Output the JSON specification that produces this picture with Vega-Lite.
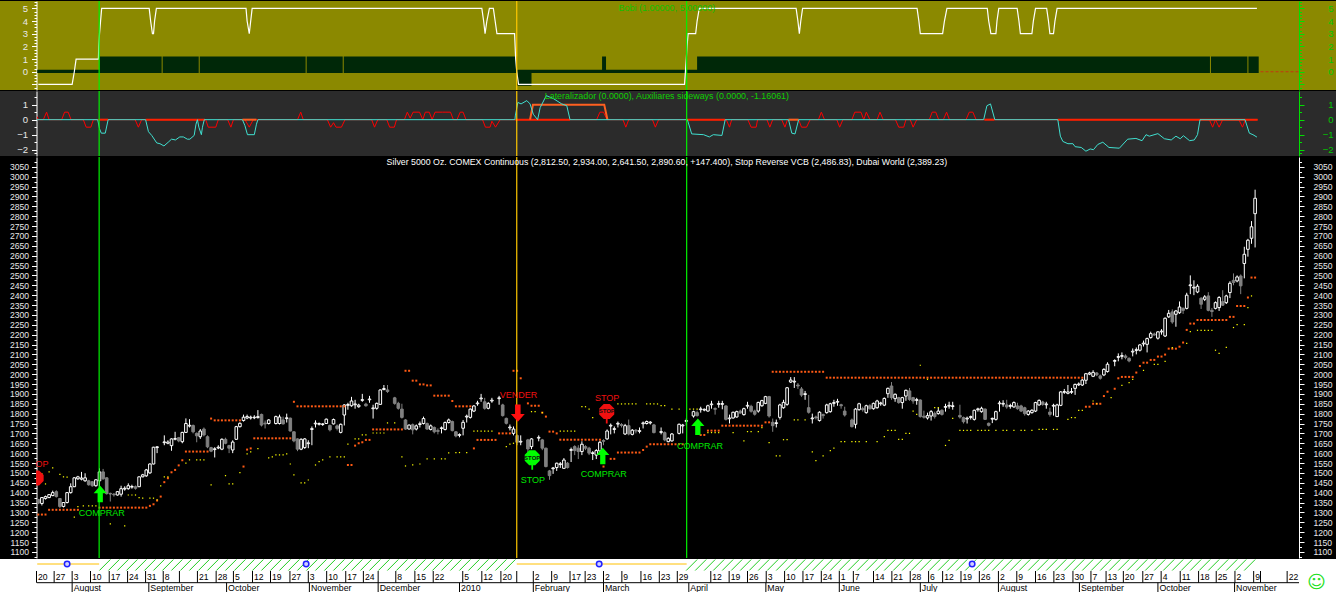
{"$schema":"https://vega.github.io/schema/vega-lite/v6.json","background":"#000000","padding":0,"spacing":1,"bounds":"flush","config":{"view":{"stroke":null},"font":"Liberation Sans","axis":{"grid":false}},
"datasets":{
"candles":[{"i":0,"o":1365,"h":1368,"l":1342,"c":1347},{"i":1,"o":1345,"h":1378,"l":1335,"c":1375},{"i":2,"o":1370,"h":1385,"l":1365,"c":1380},{"i":3,"o":1375,"h":1393,"l":1372,"c":1390},{"i":4,"o":1385,"h":1410,"l":1382,"c":1400},{"i":5,"o":1405,"h":1412,"l":1375,"c":1380},{"i":6,"o":1370,"h":1372,"l":1322,"c":1330},{"i":7,"o":1330,"h":1352,"l":1325,"c":1350},{"i":8,"o":1350,"h":1402,"l":1345,"c":1400},{"i":9,"o":1400,"h":1447,"l":1395,"c":1430},{"i":10,"o":1430,"h":1478,"l":1428,"c":1475},{"i":11,"o":1470,"h":1485,"l":1465,"c":1480},{"i":12,"o":1468,"h":1505,"l":1462,"c":1474},{"i":13,"o":1460,"h":1498,"l":1455,"c":1475},{"i":14,"o":1460,"h":1465,"l":1435,"c":1440},{"i":15,"o":1455,"h":1458,"l":1430,"c":1435},{"i":16,"o":1435,"h":1468,"l":1430,"c":1465},{"i":17,"o":1460,"h":1523,"l":1430,"c":1505},{"i":18,"o":1505,"h":1520,"l":1465,"c":1470},{"i":19,"o":1475,"h":1478,"l":1390,"c":1395},{"i":20,"o":1396,"h":1400,"l":1355,"c":1393},{"i":21,"o":1392,"h":1398,"l":1380,"c":1389},{"i":22,"o":1388,"h":1408,"l":1385,"c":1405},{"i":23,"o":1392,"h":1435,"l":1380,"c":1420},{"i":24,"o":1418,"h":1432,"l":1410,"c":1422},{"i":25,"o":1420,"h":1447,"l":1415,"c":1435},{"i":26,"o":1428,"h":1440,"l":1420,"c":1431},{"i":27,"o":1430,"h":1436,"l":1415,"c":1422},{"i":28,"o":1430,"h":1482,"l":1428,"c":1480},{"i":29,"o":1480,"h":1495,"l":1478,"c":1490},{"i":30,"o":1485,"h":1520,"l":1480,"c":1515},{"i":31,"o":1500,"h":1548,"l":1495,"c":1545},{"i":32,"o":1545,"h":1632,"l":1543,"c":1630},{"i":33,"o":1628,"h":1636,"l":1600,"c":1632},{"i":35,"o":1653,"h":1690,"l":1640,"c":1657},{"i":36,"o":1650,"h":1665,"l":1645,"c":1656},{"i":37,"o":1638,"h":1675,"l":1612,"c":1672},{"i":38,"o":1670,"h":1708,"l":1665,"c":1674},{"i":39,"o":1678,"h":1682,"l":1655,"c":1662},{"i":40,"o":1658,"h":1708,"l":1650,"c":1705},{"i":41,"o":1705,"h":1776,"l":1703,"c":1750},{"i":42,"o":1737,"h":1772,"l":1730,"c":1741},{"i":43,"o":1740,"h":1745,"l":1700,"c":1708},{"i":44,"o":1700,"h":1705,"l":1655,"c":1688},{"i":45,"o":1683,"h":1722,"l":1672,"c":1712},{"i":46,"o":1722,"h":1730,"l":1685,"c":1692},{"i":47,"o":1683,"h":1690,"l":1625,"c":1632},{"i":48,"o":1628,"h":1632,"l":1605,"c":1610},{"i":49,"o":1618,"h":1630,"l":1578,"c":1622},{"i":50,"o":1626,"h":1640,"l":1620,"c":1630},{"i":51,"o":1620,"h":1675,"l":1615,"c":1670},{"i":52,"o":1670,"h":1678,"l":1645,"c":1650},{"i":53,"o":1638,"h":1642,"l":1600,"c":1625},{"i":54,"o":1616,"h":1665,"l":1600,"c":1656},{"i":55,"o":1670,"h":1738,"l":1668,"c":1734},{"i":56,"o":1734,"h":1756,"l":1730,"c":1751},{"i":57,"o":1765,"h":1795,"l":1760,"c":1782},{"i":58,"o":1778,"h":1795,"l":1772,"c":1785},{"i":59,"o":1778,"h":1790,"l":1770,"c":1782},{"i":60,"o":1779,"h":1792,"l":1772,"c":1782},{"i":61,"o":1780,"h":1818,"l":1775,"c":1785},{"i":62,"o":1796,"h":1800,"l":1735,"c":1742},{"i":63,"o":1752,"h":1765,"l":1725,"c":1748},{"i":64,"o":1750,"h":1772,"l":1745,"c":1768},{"i":66,"o":1750,"h":1790,"l":1745,"c":1785},{"i":67,"o":1750,"h":1795,"l":1745,"c":1783},{"i":68,"o":1768,"h":1785,"l":1745,"c":1748},{"i":69,"o":1775,"h":1800,"l":1755,"c":1779},{"i":70,"o":1777,"h":1780,"l":1710,"c":1712},{"i":71,"o":1708,"h":1710,"l":1655,"c":1662},{"i":72,"o":1672,"h":1675,"l":1610,"c":1620},{"i":73,"o":1620,"h":1675,"l":1615,"c":1670},{"i":74,"o":1628,"h":1676,"l":1622,"c":1672},{"i":75,"o":1648,"h":1665,"l":1625,"c":1652},{"i":76,"o":1720,"h":1735,"l":1640,"c":1724},{"i":77,"o":1748,"h":1766,"l":1730,"c":1752},{"i":78,"o":1746,"h":1755,"l":1740,"c":1750},{"i":79,"o":1745,"h":1752,"l":1738,"c":1748},{"i":80,"o":1750,"h":1775,"l":1748,"c":1772},{"i":81,"o":1740,"h":1745,"l":1710,"c":1718},{"i":82,"o":1748,"h":1775,"l":1745,"c":1770},{"i":83,"o":1738,"h":1745,"l":1715,"c":1725},{"i":84,"o":1705,"h":1750,"l":1700,"c":1746},{"i":85,"o":1793,"h":1848,"l":1740,"c":1844},{"i":86,"o":1842,"h":1855,"l":1820,"c":1846},{"i":87,"o":1840,"h":1885,"l":1835,"c":1864},{"i":88,"o":1845,"h":1870,"l":1825,"c":1849},{"i":89,"o":1835,"h":1850,"l":1830,"c":1843},{"i":90,"o":1867,"h":1900,"l":1860,"c":1871},{"i":91,"o":1848,"h":1855,"l":1835,"c":1840},{"i":92,"o":1870,"h":1890,"l":1855,"c":1874},{"i":93,"o":1825,"h":1845,"l":1775,"c":1829},{"i":94,"o":1827,"h":1856,"l":1820,"c":1852},{"i":95,"o":1847,"h":1922,"l":1845,"c":1920},{"i":96,"o":1922,"h":1945,"l":1918,"c":1927},{"i":97,"o":1920,"h":1945,"l":1905,"c":1912},{"i":99,"o":1880,"h":1885,"l":1845,"c":1852},{"i":100,"o":1852,"h":1860,"l":1820,"c":1827},{"i":101,"o":1823,"h":1850,"l":1775,"c":1781},{"i":102,"o":1768,"h":1772,"l":1718,"c":1722},{"i":103,"o":1722,"h":1745,"l":1720,"c":1742},{"i":104,"o":1744,"h":1750,"l":1695,"c":1718},{"i":105,"o":1722,"h":1745,"l":1715,"c":1738},{"i":106,"o":1745,"h":1760,"l":1730,"c":1749},{"i":107,"o":1750,"h":1785,"l":1745,"c":1775},{"i":108,"o":1750,"h":1755,"l":1718,"c":1722},{"i":109,"o":1720,"h":1745,"l":1715,"c":1738},{"i":110,"o":1730,"h":1735,"l":1700,"c":1708},{"i":111,"o":1715,"h":1725,"l":1695,"c":1710},{"i":112,"o":1725,"h":1735,"l":1700,"c":1728},{"i":113,"o":1720,"h":1760,"l":1715,"c":1755},{"i":114,"o":1755,"h":1775,"l":1750,"c":1768},{"i":115,"o":1760,"h":1765,"l":1710,"c":1714},{"i":116,"o":1708,"h":1712,"l":1680,"c":1687},{"i":117,"o":1690,"h":1700,"l":1680,"c":1694},{"i":118,"o":1726,"h":1768,"l":1690,"c":1756},{"i":119,"o":1783,"h":1795,"l":1755,"c":1787},{"i":120,"o":1781,"h":1826,"l":1775,"c":1823},{"i":121,"o":1813,"h":1843,"l":1808,"c":1839},{"i":122,"o":1850,"h":1865,"l":1840,"c":1854},{"i":123,"o":1875,"h":1900,"l":1860,"c":1879},{"i":124,"o":1860,"h":1880,"l":1820,"c":1827},{"i":125,"o":1827,"h":1858,"l":1822,"c":1852},{"i":126,"o":1864,"h":1880,"l":1855,"c":1868},{"i":128,"o":1876,"h":1890,"l":1845,"c":1880},{"i":129,"o":1844,"h":1850,"l":1785,"c":1790},{"i":130,"o":1776,"h":1780,"l":1745,"c":1751},{"i":131,"o":1728,"h":1745,"l":1715,"c":1732},{"i":132,"o":1700,"h":1735,"l":1690,"c":1722},{"i":133,"o":1689,"h":1695,"l":1640,"c":1655},{"i":134,"o":1656,"h":1690,"l":1640,"c":1660},{"i":136,"o":1667,"h":1672,"l":1600,"c":1621},{"i":137,"o":1633,"h":1676,"l":1620,"c":1672},{"i":139,"o":1676,"h":1690,"l":1660,"c":1680},{"i":140,"o":1667,"h":1672,"l":1615,"c":1625},{"i":141,"o":1625,"h":1628,"l":1528,"c":1532},{"i":142,"o":1510,"h":1515,"l":1465,"c":1486},{"i":143,"o":1521,"h":1530,"l":1495,"c":1525},{"i":144,"o":1527,"h":1552,"l":1510,"c":1549},{"i":145,"o":1542,"h":1555,"l":1525,"c":1546},{"i":146,"o":1523,"h":1575,"l":1520,"c":1565},{"i":147,"o":1549,"h":1555,"l":1522,"c":1527},{"i":148,"o":1614,"h":1628,"l":1555,"c":1618},{"i":149,"o":1633,"h":1640,"l":1590,"c":1613},{"i":150,"o":1625,"h":1640,"l":1570,"c":1608},{"i":151,"o":1608,"h":1660,"l":1590,"c":1645},{"i":152,"o":1633,"h":1640,"l":1615,"c":1625},{"i":153,"o":1625,"h":1632,"l":1590,"c":1600},{"i":154,"o":1598,"h":1610,"l":1565,"c":1602},{"i":155,"o":1590,"h":1620,"l":1570,"c":1613},{"i":156,"o":1611,"h":1662,"l":1605,"c":1655},{"i":157,"o":1664,"h":1670,"l":1640,"c":1660},{"i":158,"o":1672,"h":1720,"l":1668,"c":1712},{"i":159,"o":1737,"h":1750,"l":1695,"c":1741},{"i":160,"o":1720,"h":1735,"l":1700,"c":1724},{"i":161,"o":1747,"h":1760,"l":1730,"c":1751},{"i":162,"o":1745,"h":1752,"l":1730,"c":1740},{"i":163,"o":1697,"h":1748,"l":1692,"c":1739},{"i":164,"o":1739,"h":1770,"l":1690,"c":1697},{"i":165,"o":1695,"h":1722,"l":1690,"c":1716},{"i":166,"o":1716,"h":1722,"l":1700,"c":1712},{"i":167,"o":1710,"h":1730,"l":1700,"c":1714},{"i":168,"o":1749,"h":1760,"l":1725,"c":1753},{"i":169,"o":1750,"h":1765,"l":1745,"c":1760},{"i":170,"o":1753,"h":1762,"l":1745,"c":1757},{"i":171,"o":1743,"h":1748,"l":1700,"c":1704},{"i":173,"o":1705,"h":1730,"l":1695,"c":1709},{"i":174,"o":1704,"h":1710,"l":1660,"c":1667},{"i":175,"o":1658,"h":1680,"l":1655,"c":1675},{"i":176,"o":1662,"h":1702,"l":1658,"c":1697},{"i":178,"o":1700,"h":1750,"l":1695,"c":1746},{"i":179,"o":1738,"h":1748,"l":1700,"c":1742},{"i":180,"o":1761,"h":1775,"l":1740,"c":1765},{"i":182,"o":1788,"h":1815,"l":1780,"c":1810},{"i":183,"o":1805,"h":1815,"l":1785,"c":1790},{"i":184,"o":1820,"h":1835,"l":1805,"c":1824},{"i":185,"o":1818,"h":1826,"l":1812,"c":1822},{"i":186,"o":1813,"h":1845,"l":1810,"c":1840},{"i":187,"o":1845,"h":1865,"l":1825,"c":1849},{"i":188,"o":1826,"h":1832,"l":1795,"c":1822},{"i":189,"o":1847,"h":1865,"l":1830,"c":1851},{"i":190,"o":1847,"h":1865,"l":1822,"c":1851},{"i":191,"o":1839,"h":1842,"l":1765,"c":1771},{"i":192,"o":1774,"h":1795,"l":1750,"c":1778},{"i":193,"o":1778,"h":1810,"l":1775,"c":1807},{"i":194,"o":1783,"h":1815,"l":1780,"c":1810},{"i":195,"o":1813,"h":1820,"l":1800,"c":1803},{"i":196,"o":1795,"h":1830,"l":1790,"c":1825},{"i":197,"o":1838,"h":1860,"l":1825,"c":1842},{"i":198,"o":1837,"h":1845,"l":1805,"c":1812},{"i":199,"o":1813,"h":1820,"l":1790,"c":1797},{"i":200,"o":1813,"h":1860,"l":1805,"c":1857},{"i":201,"o":1840,"h":1870,"l":1835,"c":1866},{"i":202,"o":1852,"h":1890,"l":1848,"c":1886},{"i":203,"o":1886,"h":1890,"l":1780,"c":1788},{"i":204,"o":1756,"h":1775,"l":1708,"c":1739},{"i":205,"o":1750,"h":1770,"l":1730,"c":1754},{"i":206,"o":1781,"h":1850,"l":1770,"c":1844},{"i":207,"o":1830,"h":1870,"l":1825,"c":1857},{"i":208,"o":1847,"h":1935,"l":1840,"c":1931},{"i":209,"o":1960,"h":1985,"l":1955,"c":1970},{"i":210,"o":1960,"h":1985,"l":1930,"c":1964},{"i":211,"o":1945,"h":1955,"l":1925,"c":1940},{"i":212,"o":1925,"h":1935,"l":1885,"c":1894},{"i":213,"o":1897,"h":1915,"l":1870,"c":1901},{"i":214,"o":1830,"h":1895,"l":1800,"c":1807},{"i":215,"o":1774,"h":1800,"l":1750,"c":1778},{"i":216,"o":1783,"h":1790,"l":1770,"c":1779},{"i":217,"o":1765,"h":1812,"l":1760,"c":1807},{"i":218,"o":1795,"h":1800,"l":1775,"c":1790},{"i":219,"o":1805,"h":1850,"l":1800,"c":1844},{"i":220,"o":1810,"h":1855,"l":1805,"c":1850},{"i":221,"o":1852,"h":1870,"l":1835,"c":1856},{"i":222,"o":1858,"h":1875,"l":1840,"c":1862},{"i":223,"o":1845,"h":1850,"l":1825,"c":1840},{"i":224,"o":1813,"h":1835,"l":1785,"c":1793},{"i":226,"o":1768,"h":1775,"l":1730,"c":1734},{"i":227,"o":1746,"h":1828,"l":1725,"c":1823},{"i":228,"o":1820,"h":1855,"l":1815,"c":1850},{"i":229,"o":1825,"h":1835,"l":1810,"c":1820},{"i":230,"o":1805,"h":1845,"l":1800,"c":1840},{"i":231,"o":1840,"h":1848,"l":1820,"c":1825},{"i":232,"o":1825,"h":1856,"l":1820,"c":1852},{"i":233,"o":1830,"h":1870,"l":1825,"c":1864},{"i":234,"o":1850,"h":1860,"l":1840,"c":1854},{"i":235,"o":1843,"h":1882,"l":1838,"c":1877},{"i":236,"o":1901,"h":1932,"l":1880,"c":1928},{"i":237,"o":1940,"h":1960,"l":1870,"c":1881},{"i":238,"o":1876,"h":1902,"l":1860,"c":1898},{"i":239,"o":1881,"h":1885,"l":1850,"c":1856},{"i":240,"o":1856,"h":1885,"l":1825,"c":1881},{"i":241,"o":1889,"h":1922,"l":1865,"c":1918},{"i":242,"o":1915,"h":1930,"l":1865,"c":1872},{"i":243,"o":1881,"h":1885,"l":1850,"c":1864},{"i":244,"o":1867,"h":1880,"l":1845,"c":1871},{"i":245,"o":1869,"h":1872,"l":1780,"c":1785},{"i":246,"o":1787,"h":1815,"l":1775,"c":1782},{"i":247,"o":1778,"h":1805,"l":1770,"c":1790},{"i":248,"o":1788,"h":1818,"l":1765,"c":1810},{"i":249,"o":1800,"h":1810,"l":1775,"c":1785},{"i":250,"o":1800,"h":1830,"l":1795,"c":1813},{"i":251,"o":1817,"h":1822,"l":1790,"c":1796},{"i":252,"o":1832,"h":1850,"l":1810,"c":1836},{"i":253,"o":1838,"h":1860,"l":1825,"c":1842},{"i":254,"o":1836,"h":1860,"l":1820,"c":1840},{"i":256,"o":1791,"h":1845,"l":1775,"c":1783},{"i":257,"o":1780,"h":1785,"l":1750,"c":1759},{"i":258,"o":1773,"h":1785,"l":1750,"c":1777},{"i":259,"o":1781,"h":1790,"l":1770,"c":1785},{"i":260,"o":1771,"h":1820,"l":1765,"c":1817},{"i":261,"o":1820,"h":1830,"l":1810,"c":1824},{"i":262,"o":1810,"h":1835,"l":1805,"c":1827},{"i":263,"o":1823,"h":1826,"l":1768,"c":1771},{"i":264,"o":1751,"h":1755,"l":1735,"c":1741},{"i":265,"o":1772,"h":1780,"l":1752,"c":1776},{"i":266,"o":1771,"h":1815,"l":1765,"c":1810},{"i":267,"o":1850,"h":1865,"l":1810,"c":1854},{"i":268,"o":1848,"h":1868,"l":1835,"c":1852},{"i":269,"o":1844,"h":1870,"l":1825,"c":1834},{"i":270,"o":1837,"h":1850,"l":1825,"c":1841},{"i":271,"o":1834,"h":1862,"l":1830,"c":1856},{"i":272,"o":1839,"h":1855,"l":1820,"c":1825},{"i":273,"o":1839,"h":1845,"l":1808,"c":1813},{"i":274,"o":1830,"h":1835,"l":1790,"c":1800},{"i":275,"o":1796,"h":1818,"l":1790,"c":1813},{"i":276,"o":1805,"h":1822,"l":1800,"c":1817},{"i":277,"o":1813,"h":1860,"l":1808,"c":1856},{"i":278,"o":1844,"h":1872,"l":1840,"c":1867},{"i":279,"o":1859,"h":1865,"l":1840,"c":1847},{"i":280,"o":1845,"h":1860,"l":1825,"c":1849},{"i":281,"o":1808,"h":1830,"l":1785,"c":1796},{"i":282,"o":1838,"h":1850,"l":1790,"c":1842},{"i":283,"o":1785,"h":1850,"l":1783,"c":1844},{"i":284,"o":1842,"h":1914,"l":1838,"c":1910},{"i":285,"o":1908,"h":1925,"l":1900,"c":1912},{"i":286,"o":1903,"h":1945,"l":1898,"c":1910},{"i":287,"o":1908,"h":1930,"l":1900,"c":1912},{"i":288,"o":1928,"h":1952,"l":1895,"c":1948},{"i":289,"o":1946,"h":1958,"l":1940,"c":1950},{"i":290,"o":1945,"h":1975,"l":1940,"c":1970},{"i":291,"o":1969,"h":2006,"l":1950,"c":2002},{"i":292,"o":2000,"h":2012,"l":1995,"c":2006},{"i":293,"o":1989,"h":2020,"l":1985,"c":2009},{"i":294,"o":2006,"h":2010,"l":1990,"c":1996},{"i":295,"o":1991,"h":1998,"l":1972,"c":1979},{"i":296,"o":1996,"h":2030,"l":1990,"c":2024},{"i":297,"o":2013,"h":2060,"l":2008,"c":2050},{"i":299,"o":2065,"h":2075,"l":2040,"c":2069},{"i":300,"o":2085,"h":2105,"l":2065,"c":2089},{"i":301,"o":2090,"h":2110,"l":2075,"c":2094},{"i":302,"o":2092,"h":2100,"l":2075,"c":2084},{"i":303,"o":2080,"h":2085,"l":2060,"c":2067},{"i":304,"o":2112,"h":2130,"l":2090,"c":2116},{"i":305,"o":2120,"h":2135,"l":2100,"c":2124},{"i":306,"o":2121,"h":2152,"l":2115,"c":2148},{"i":307,"o":2153,"h":2170,"l":2140,"c":2157},{"i":308,"o":2151,"h":2185,"l":2110,"c":2180},{"i":309,"o":2185,"h":2215,"l":2180,"c":2205},{"i":310,"o":2203,"h":2210,"l":2195,"c":2198},{"i":311,"o":2182,"h":2218,"l":2175,"c":2214},{"i":312,"o":2214,"h":2228,"l":2200,"c":2218},{"i":313,"o":2193,"h":2287,"l":2188,"c":2283},{"i":314,"o":2290,"h":2325,"l":2285,"c":2308},{"i":315,"o":2315,"h":2328,"l":2255,"c":2264},{"i":316,"o":2303,"h":2325,"l":2240,"c":2320},{"i":317,"o":2311,"h":2368,"l":2305,"c":2340},{"i":318,"o":2333,"h":2338,"l":2305,"c":2323},{"i":319,"o":2333,"h":2412,"l":2328,"c":2400},{"i":320,"o":2448,"h":2500,"l":2405,"c":2452},{"i":321,"o":2436,"h":2475,"l":2400,"c":2440},{"i":322,"o":2416,"h":2455,"l":2410,"c":2445},{"i":323,"o":2384,"h":2390,"l":2330,"c":2354},{"i":324,"o":2379,"h":2400,"l":2370,"c":2391},{"i":325,"o":2396,"h":2415,"l":2318,"c":2323},{"i":326,"o":2323,"h":2335,"l":2290,"c":2317},{"i":327,"o":2333,"h":2368,"l":2328,"c":2362},{"i":328,"o":2337,"h":2395,"l":2320,"c":2388},{"i":329,"o":2367,"h":2425,"l":2345,"c":2349},{"i":330,"o":2362,"h":2402,"l":2355,"c":2396},{"i":331,"o":2413,"h":2470,"l":2385,"c":2460},{"i":332,"o":2475,"h":2510,"l":2450,"c":2464},{"i":333,"o":2472,"h":2500,"l":2465,"c":2492},{"i":334,"o":2497,"h":2505,"l":2405,"c":2447},{"i":335,"o":2560,"h":2645,"l":2485,"c":2607},{"i":336,"o":2632,"h":2685,"l":2595,"c":2678},{"i":337,"o":2688,"h":2775,"l":2660,"c":2746},{"i":338,"o":2812.5,"h":2934,"l":2641.5,"c":2890.6}],
"orange":[{"i":0,"v":1289},{"i":1,"v":1289},{"i":2,"v":1289},{"i":3,"v":1313},{"i":4,"v":1313},{"i":5,"v":1313},{"i":6,"v":1313},{"i":7,"v":1313},{"i":8,"v":1313},{"i":9,"v":1313},{"i":10,"v":1313},{"i":11,"v":1313},{"i":17,"v":1324},{"i":18,"v":1324},{"i":19,"v":1324},{"i":20,"v":1324},{"i":21,"v":1324},{"i":22,"v":1324},{"i":23,"v":1324},{"i":24,"v":1324},{"i":25,"v":1324},{"i":26,"v":1324},{"i":27,"v":1324},{"i":28,"v":1324},{"i":29,"v":1324},{"i":30,"v":1324},{"i":31,"v":1333},{"i":32,"v":1341},{"i":33,"v":1360},{"i":34,"v":1380},{"i":35,"v":1453},{"i":36,"v":1473},{"i":37,"v":1503},{"i":38,"v":1515},{"i":39,"v":1538},{"i":40,"v":1564},{"i":41,"v":1608},{"i":42,"v":1608},{"i":43,"v":1608},{"i":44,"v":1608},{"i":45,"v":1608},{"i":46,"v":1608},{"i":47,"v":1608},{"i":48,"v":1775},{"i":49,"v":1766},{"i":50,"v":1766},{"i":51,"v":1766},{"i":52,"v":1766},{"i":53,"v":1766},{"i":54,"v":1766},{"i":55,"v":1766},{"i":56,"v":1766},{"i":57,"v":1532},{"i":58,"v":1618},{"i":59,"v":1624},{"i":60,"v":1675},{"i":61,"v":1675},{"i":62,"v":1675},{"i":63,"v":1675},{"i":64,"v":1675},{"i":65,"v":1675},{"i":66,"v":1675},{"i":67,"v":1675},{"i":68,"v":1675},{"i":69,"v":1675},{"i":70,"v":1675},{"i":71,"v":1860},{"i":72,"v":1837},{"i":73,"v":1837},{"i":74,"v":1837},{"i":75,"v":1837},{"i":76,"v":1837},{"i":77,"v":1837},{"i":78,"v":1837},{"i":79,"v":1837},{"i":80,"v":1837},{"i":81,"v":1837},{"i":82,"v":1837},{"i":83,"v":1837},{"i":84,"v":1837},{"i":85,"v":1837},{"i":86,"v":1540},{"i":87,"v":1540},{"i":88,"v":1638},{"i":89,"v":1650},{"i":90,"v":1655},{"i":91,"v":1667},{"i":92,"v":1667},{"i":93,"v":1720},{"i":94,"v":1720},{"i":95,"v":1720},{"i":96,"v":1720},{"i":97,"v":1720},{"i":98,"v":1720},{"i":99,"v":1720},{"i":100,"v":1720},{"i":101,"v":1720},{"i":102,"v":2017},{"i":103,"v":2017},{"i":104,"v":1967},{"i":105,"v":1967},{"i":106,"v":1948},{"i":107,"v":1948},{"i":108,"v":1943},{"i":109,"v":1943},{"i":110,"v":1891},{"i":111,"v":1891},{"i":112,"v":1891},{"i":113,"v":1891},{"i":114,"v":1891},{"i":115,"v":1864},{"i":116,"v":1837},{"i":117,"v":1837},{"i":118,"v":1837},{"i":119,"v":1837},{"i":120,"v":1837},{"i":121,"v":1624},{"i":122,"v":1667},{"i":123,"v":1667},{"i":124,"v":1667},{"i":125,"v":1667},{"i":126,"v":1667},{"i":127,"v":1667},{"i":128,"v":1700},{"i":129,"v":1700},{"i":130,"v":1700},{"i":131,"v":1700},{"i":132,"v":2017},{"i":133,"v":2017},{"i":134,"v":1979},{"i":136,"v":1852},{"i":137,"v":1840},{"i":138,"v":1840},{"i":139,"v":1840},{"i":140,"v":1805},{"i":141,"v":1785},{"i":142,"v":1709},{"i":143,"v":1709},{"i":144,"v":1700},{"i":145,"v":1668},{"i":146,"v":1668},{"i":147,"v":1668},{"i":148,"v":1668},{"i":149,"v":1668},{"i":150,"v":1668},{"i":151,"v":1668},{"i":152,"v":1668},{"i":153,"v":1668},{"i":154,"v":1668},{"i":155,"v":1668},{"i":156,"v":1668},{"i":157,"v":1532},{"i":159,"v":1571},{"i":160,"v":1571},{"i":161,"v":1603},{"i":162,"v":1603},{"i":163,"v":1603},{"i":164,"v":1603},{"i":165,"v":1603},{"i":166,"v":1603},{"i":167,"v":1603},{"i":168,"v":1616},{"i":169,"v":1633},{"i":170,"v":1645},{"i":171,"v":1645},{"i":172,"v":1645},{"i":173,"v":1645},{"i":174,"v":1645},{"i":175,"v":1645},{"i":176,"v":1645},{"i":177,"v":1645},{"i":178,"v":1645},{"i":179,"v":1645},{"i":184,"v":1692},{"i":185,"v":1692},{"i":186,"v":1714},{"i":187,"v":1714},{"i":188,"v":1714},{"i":189,"v":1714},{"i":190,"v":1739},{"i":191,"v":1739},{"i":192,"v":1739},{"i":193,"v":1739},{"i":194,"v":1739},{"i":195,"v":1739},{"i":196,"v":1739},{"i":197,"v":1739},{"i":198,"v":1739},{"i":199,"v":1739},{"i":200,"v":1739},{"i":201,"v":1739},{"i":202,"v":1756},{"i":203,"v":1756},{"i":204,"v":2012},{"i":205,"v":2012},{"i":206,"v":2012},{"i":207,"v":2012},{"i":208,"v":2012},{"i":209,"v":2012},{"i":210,"v":2012},{"i":211,"v":2012},{"i":212,"v":2012},{"i":213,"v":2012},{"i":214,"v":2012},{"i":215,"v":2012},{"i":216,"v":2012},{"i":217,"v":2012},{"i":218,"v":2012},{"i":219,"v":1982},{"i":220,"v":1982},{"i":221,"v":1982},{"i":222,"v":1982},{"i":223,"v":1982},{"i":224,"v":1982},{"i":225,"v":1982},{"i":226,"v":1982},{"i":227,"v":1982},{"i":228,"v":1982},{"i":229,"v":1982},{"i":230,"v":1982},{"i":231,"v":1982},{"i":232,"v":1982},{"i":233,"v":1982},{"i":234,"v":1982},{"i":235,"v":1982},{"i":236,"v":1982},{"i":237,"v":1982},{"i":238,"v":1982},{"i":239,"v":1982},{"i":240,"v":1982},{"i":241,"v":1982},{"i":242,"v":1982},{"i":243,"v":1982},{"i":244,"v":1982},{"i":245,"v":1982},{"i":246,"v":1982},{"i":247,"v":1982},{"i":248,"v":1982},{"i":249,"v":1982},{"i":250,"v":1982},{"i":251,"v":1982},{"i":252,"v":1982},{"i":253,"v":1982},{"i":254,"v":1982},{"i":255,"v":1982},{"i":256,"v":1982},{"i":257,"v":1982},{"i":258,"v":1982},{"i":259,"v":1982},{"i":260,"v":1982},{"i":261,"v":1982},{"i":262,"v":1982},{"i":263,"v":1982},{"i":264,"v":1982},{"i":265,"v":1982},{"i":266,"v":1982},{"i":267,"v":1982},{"i":268,"v":1982},{"i":269,"v":1982},{"i":270,"v":1982},{"i":271,"v":1982},{"i":272,"v":1982},{"i":273,"v":1982},{"i":274,"v":1982},{"i":275,"v":1982},{"i":276,"v":1982},{"i":277,"v":1982},{"i":278,"v":1982},{"i":279,"v":1982},{"i":280,"v":1982},{"i":281,"v":1982},{"i":282,"v":1982},{"i":283,"v":1982},{"i":284,"v":1982},{"i":285,"v":1982},{"i":286,"v":1982},{"i":287,"v":1982},{"i":288,"v":1982},{"i":289,"v":1982},{"i":290,"v":1982},{"i":291,"v":1835},{"i":292,"v":1835},{"i":293,"v":1850},{"i":294,"v":1850},{"i":295,"v":1850},{"i":296,"v":1889},{"i":297,"v":1911},{"i":299,"v":1926},{"i":300,"v":1979},{"i":301,"v":1986},{"i":302,"v":1986},{"i":303,"v":1986},{"i":304,"v":1986},{"i":305,"v":2008},{"i":306,"v":2041},{"i":307,"v":2058},{"i":308,"v":2058},{"i":309,"v":2072},{"i":310,"v":2072},{"i":311,"v":2089},{"i":312,"v":2089},{"i":313,"v":2099},{"i":314,"v":2129},{"i":315,"v":2129},{"i":316,"v":2129},{"i":317,"v":2139},{"i":318,"v":2160},{"i":319,"v":2224},{"i":320,"v":2256},{"i":321,"v":2256},{"i":322,"v":2274},{"i":323,"v":2274},{"i":324,"v":2274},{"i":325,"v":2274},{"i":326,"v":2274},{"i":327,"v":2274},{"i":328,"v":2274},{"i":329,"v":2274},{"i":330,"v":2274},{"i":331,"v":2290},{"i":332,"v":2290},{"i":333,"v":2345},{"i":334,"v":2345},{"i":335,"v":2345},{"i":336,"v":2388},{"i":337,"v":2489},{"i":338,"v":2489}],
"yellow":[{"i":1,"v":1495},{"i":2,"v":1444},{"i":3,"v":1505},{"i":4,"v":1525},{"i":6,"v":1493},{"i":7,"v":1480},{"i":8,"v":1478},{"i":10,"v":1276},{"i":11,"v":1329},{"i":12.5,"v":1333},{"i":14,"v":1333},{"i":15,"v":1333},{"i":16,"v":1333},{"i":20,"v":1242},{"i":24,"v":1232},{"i":25,"v":1388},{"i":26,"v":1388},{"i":27,"v":1388},{"i":28,"v":1375},{"i":29,"v":1372},{"i":31,"v":1372},{"i":32,"v":1372},{"i":33,"v":1363},{"i":34,"v":1434},{"i":35,"v":1480},{"i":36,"v":1480},{"i":41,"v":1549},{"i":42,"v":1566},{"i":44,"v":1566},{"i":45,"v":1566},{"i":46,"v":1566},{"i":48,"v":1439},{"i":52,"v":1486},{"i":53,"v":1444},{"i":54,"v":1444},{"i":56,"v":1501},{"i":58,"v":1596},{"i":59,"v":1606},{"i":61,"v":1623},{"i":64,"v":1576},{"i":65,"v":1581},{"i":66,"v":1591},{"i":67,"v":1591},{"i":68,"v":1591},{"i":69,"v":1596},{"i":70,"v":1545},{"i":71,"v":1490},{"i":73,"v":1449},{"i":74,"v":1449},{"i":75,"v":1464},{"i":77,"v":1540},{"i":78,"v":1557},{"i":79,"v":1566},{"i":81,"v":1581},{"i":83,"v":1581},{"i":84,"v":1581},{"i":85,"v":1581},{"i":86,"v":1646},{"i":88,"v":1672},{"i":89,"v":1672},{"i":90,"v":1692},{"i":91,"v":1692},{"i":93,"v":1702},{"i":94,"v":1702},{"i":95,"v":1702},{"i":96,"v":1702},{"i":97,"v":1753},{"i":99,"v":1753},{"i":101,"v":1581},{"i":102,"v":1535},{"i":104,"v":1540},{"i":106,"v":1545},{"i":108,"v":1571},{"i":110,"v":1571},{"i":112,"v":1571},{"i":113,"v":1571},{"i":114,"v":1601},{"i":116,"v":1603},{"i":117,"v":1603},{"i":119,"v":1603},{"i":121,"v":1712},{"i":122,"v":1712},{"i":123,"v":1712},{"i":124,"v":1712},{"i":125,"v":1712},{"i":126,"v":1712},{"i":130,"v":1633},{"i":131,"v":1646},{"i":132,"v":1650},{"i":137,"v":1810},{"i":138,"v":1810},{"i":140,"v":1805},{"i":145,"v":1712},{"i":146,"v":1712},{"i":147,"v":1712},{"i":148,"v":1712},{"i":149,"v":1712},{"i":151,"v":1835},{"i":152,"v":1835},{"i":153,"v":1823},{"i":154,"v":1780},{"i":161,"v":1849},{"i":162,"v":1849},{"i":163,"v":1849},{"i":164,"v":1849},{"i":165,"v":1849},{"i":166,"v":1849},{"i":169,"v":1849},{"i":170,"v":1849},{"i":171,"v":1849},{"i":172,"v":1849},{"i":173,"v":1840},{"i":174,"v":1840},{"i":176,"v":1823},{"i":178,"v":1823},{"i":181,"v":1823},{"i":182,"v":1823},{"i":183,"v":1823},{"i":186,"v":1704},{"i":187,"v":1704},{"i":188,"v":1704},{"i":189,"v":1704},{"i":193,"v":1704},{"i":196,"v":1662},{"i":197,"v":1709},{"i":198,"v":1709},{"i":200,"v":1709},{"i":201,"v":1729},{"i":203,"v":1653},{"i":205,"v":1586},{"i":206,"v":1586},{"i":207,"v":1668},{"i":208,"v":1668},{"i":210,"v":1768},{"i":211,"v":1768},{"i":213,"v":1768},{"i":215,"v":1606},{"i":216,"v":1562},{"i":218,"v":1586},{"i":220,"v":1613},{"i":221,"v":1625},{"i":223,"v":1658},{"i":224,"v":1658},{"i":226,"v":1658},{"i":227,"v":1658},{"i":228,"v":1658},{"i":230,"v":1658},{"i":233,"v":1658},{"i":235,"v":1684},{"i":236,"v":1715},{"i":237,"v":1715},{"i":238,"v":1715},{"i":239,"v":1670},{"i":240,"v":1670},{"i":241,"v":1700},{"i":242,"v":1700},{"i":243,"v":1813},{"i":244,"v":1796},{"i":245,"v":2045},{"i":247,"v":1974},{"i":249,"v":1830},{"i":250,"v":1830},{"i":252,"v":1639},{"i":253,"v":1665},{"i":254,"v":1776},{"i":256,"v":1715},{"i":257,"v":1715},{"i":258,"v":1715},{"i":259,"v":1715},{"i":261,"v":1715},{"i":262,"v":1715},{"i":263,"v":1715},{"i":264,"v":1715},{"i":266,"v":1715},{"i":268,"v":1715},{"i":269,"v":1715},{"i":271,"v":1715},{"i":273,"v":1715},{"i":274,"v":1715},{"i":276,"v":1715},{"i":278,"v":1720},{"i":279,"v":1720},{"i":280,"v":1720},{"i":282,"v":1720},{"i":283,"v":1720},{"i":286,"v":1771},{"i":287,"v":1780},{"i":288,"v":1780},{"i":289,"v":1817},{"i":290,"v":1817},{"i":293,"v":1864},{"i":294,"v":1850},{"i":298,"v":1881},{"i":301,"v":1943},{"i":303,"v":1957},{"i":304,"v":1974},{"i":307,"v":2019},{"i":310,"v":2050},{"i":311,"v":2050},{"i":313,"v":2065},{"i":315,"v":2134},{"i":319,"v":2156},{"i":320,"v":2215},{"i":322,"v":2222},{"i":323,"v":2222},{"i":324,"v":2222},{"i":325,"v":2222},{"i":326,"v":2222},{"i":327,"v":2121},{"i":328,"v":2105},{"i":330,"v":2136},{"i":332,"v":2236},{"i":333,"v":2251},{"i":335,"v":2251},{"i":336,"v":2337},{"i":337,"v":2396}],
"bobi":[{"i":0,"v":-1},{"i":9.4,"v":-1},{"i":10,"v":0},{"i":10.5,"v":1},{"i":16.7,"v":1},{"i":16.8,"v":2},{"i":17,"v":3},{"i":17.3,"v":4},{"i":17.6,"v":5},{"i":30.8,"v":5},{"i":31.2,"v":4},{"i":31.7,"v":3},{"i":32,"v":3},{"i":32.3,"v":4},{"i":32.8,"v":5},{"i":57.7,"v":5},{"i":58,"v":4},{"i":58.6,"v":3},{"i":59,"v":4},{"i":59.4,"v":5},{"i":123.2,"v":5},{"i":123.7,"v":4},{"i":124.1,"v":3},{"i":124.6,"v":4},{"i":125.3,"v":5},{"i":126.4,"v":5},{"i":126.9,"v":4},{"i":127.4,"v":3},{"i":132.3,"v":3},{"i":132.6,"v":1},{"i":132.9,"v":0},{"i":133.4,"v":-1},{"i":179.5,"v":-1},{"i":180,"v":1},{"i":180.2,"v":2},{"i":180.5,"v":3},{"i":182.6,"v":3},{"i":183,"v":4},{"i":183.6,"v":5},{"i":210.5,"v":5},{"i":211,"v":4},{"i":211.4,"v":3},{"i":211.8,"v":4},{"i":212.3,"v":5},{"i":244.1,"v":5},{"i":244.6,"v":4},{"i":245,"v":3},{"i":251.2,"v":3},{"i":251.7,"v":4},{"i":252.4,"v":5},{"i":263.6,"v":5},{"i":264,"v":4},{"i":264.6,"v":3},{"i":266,"v":3},{"i":266.3,"v":4},{"i":266.8,"v":5},{"i":271.9,"v":5},{"i":272.4,"v":4},{"i":272.8,"v":3},{"i":276,"v":3},{"i":276.4,"v":4},{"i":277,"v":5},{"i":280.1,"v":5},{"i":280.6,"v":4},{"i":281,"v":3},{"i":282,"v":3},{"i":282.4,"v":4},{"i":283,"v":5},{"i":338.5,"v":5}],
"dark":[{"i":-0.3,"g":0.15,"b":-0.1},{"i":17,"g":1.2,"b":-0.1},{"i":133,"g":0.15,"b":-1.1},{"i":137,"g":0.15,"b":-0.1},{"i":156.6,"g":1.2,"b":-0.1},{"i":157.7,"g":0.15,"b":-0.1},{"i":183,"g":1.2,"b":-0.1},{"i":339,"g":1.2,"b":-0.1}],
"gaps":[{"i":34.4},{"i":44.7},{"i":74.4},{"i":84.7},{"i":325.6},{"i":336}],
"dash":[{"i":339.5,"v":0},{"i":350,"v":0}],
"bobiTitle":[{"i":174.6,"v":5.05,"t":"Bobi (1.00000, 5.00000)"}],
"latTitle":[{"i":174.6,"v":1.55,"t":"Lateralizador (0.0000), Auxiliares sideways (0.0000, -1.16061)"}],
"mainTitle":[{"i":174.6,"v":3074,"t":"Silver 5000 Oz. COMEX Continuous (2,812.50, 2,934.00, 2,641.50, 2,890.60, +147.400), Stop Reverse VCB (2,486.83), Dubai World (2,389.23)"}],
"red":[{"i":-0.3,"v":0.2},{"i":0,"v":0},{"i":1.4,"v":0},{"i":2.3,"v":0.5},{"i":3,"v":0},{"i":6.5,"v":0},{"i":7.3,"v":0.5},{"i":8.3,"v":0.5},{"i":9.1,"v":0},{"i":12.5,"v":0},{"i":13.3,"v":-0.5},{"i":14.6,"v":-0.5},{"i":15.3,"v":0},{"i":26.9,"v":0},{"i":27.8,"v":-0.5},{"i":28.7,"v":0},{"i":46.5,"v":0},{"i":47.2,"v":-0.5},{"i":49.3,"v":-0.5},{"i":50,"v":0},{"i":52.6,"v":0},{"i":53.5,"v":-0.5},{"i":54.2,"v":0},{"i":57.4,"v":0},{"i":58.6,"v":-0.5},{"i":59.7,"v":0},{"i":72,"v":0},{"i":72.9,"v":0.5},{"i":73.6,"v":0},{"i":80.3,"v":0},{"i":81.2,"v":-0.5},{"i":82,"v":-0.2},{"i":82.7,"v":-0.5},{"i":84.2,"v":-0.5},{"i":85.2,"v":0},{"i":92.6,"v":0},{"i":93.4,"v":-0.5},{"i":94.3,"v":0},{"i":96.8,"v":0},{"i":97.6,"v":-0.5},{"i":98.9,"v":-0.5},{"i":99.5,"v":0},{"i":101.7,"v":0},{"i":102.5,"v":0.5},{"i":103.3,"v":0.1},{"i":104.1,"v":0.5},{"i":105.9,"v":0.5},{"i":106.8,"v":0},{"i":107.5,"v":0.5},{"i":108.6,"v":0.5},{"i":109.4,"v":0},{"i":110.2,"v":0.5},{"i":112.3,"v":0.5},{"i":113,"v":0.5},{"i":114.5,"v":0.5},{"i":115.3,"v":0},{"i":116.3,"v":0},{"i":117.2,"v":0.5},{"i":118,"v":0.5},{"i":118.8,"v":0},{"i":123.4,"v":0},{"i":124.2,"v":-0.5},{"i":125.5,"v":-0.5},{"i":126,"v":-0.1},{"i":127,"v":-0.5},{"i":128.3,"v":0},{"i":155.1,"v":0},{"i":156,"v":0.5},{"i":157,"v":0.5},{"i":158,"v":0},{"i":162.4,"v":0},{"i":163.2,"v":-0.5},{"i":164,"v":0},{"i":170.6,"v":0},{"i":171.4,"v":-0.5},{"i":172.3,"v":0},{"i":191.1,"v":0},{"i":192,"v":-0.5},{"i":192.6,"v":0},{"i":197.1,"v":0},{"i":198,"v":-0.5},{"i":199.4,"v":-0.5},{"i":199.8,"v":0},{"i":202.4,"v":0},{"i":203.2,"v":-0.5},{"i":204,"v":0},{"i":206.5,"v":0},{"i":207.4,"v":-0.5},{"i":208.1,"v":0},{"i":211.2,"v":0},{"i":212,"v":-0.5},{"i":213.4,"v":-0.5},{"i":214.4,"v":0},{"i":216.7,"v":0},{"i":217.5,"v":0.5},{"i":218.4,"v":0},{"i":221.8,"v":0},{"i":222.6,"v":-0.5},{"i":223.5,"v":0},{"i":226,"v":0},{"i":226.8,"v":0.5},{"i":228.5,"v":0.5},{"i":229.3,"v":0},{"i":230,"v":0.5},{"i":231,"v":0},{"i":233,"v":0},{"i":233.8,"v":0.5},{"i":234.7,"v":0},{"i":238.1,"v":0},{"i":239,"v":-0.5},{"i":240.4,"v":-0.5},{"i":241,"v":0},{"i":242.2,"v":0},{"i":243,"v":-0.5},{"i":244,"v":0},{"i":247.5,"v":0},{"i":248.3,"v":0.5},{"i":249.3,"v":0.5},{"i":250.1,"v":0},{"i":251.4,"v":0},{"i":252.3,"v":0.5},{"i":253.1,"v":0},{"i":257.7,"v":0},{"i":258.6,"v":0.5},{"i":259.6,"v":0.5},{"i":260.5,"v":0},{"i":325.3,"v":0},{"i":326.2,"v":-0.5},{"i":327,"v":0},{"i":328,"v":-0.5},{"i":329,"v":0},{"i":333.5,"v":0},{"i":334.5,"v":-0.5},{"i":335.3,"v":0},{"i":338.7,"v":0}],
"thick":[{"s":1,"i":16.7,"v":0},{"s":1,"i":19.4,"v":0},{"s":2,"i":29.8,"v":0},{"s":2,"i":46.3,"v":0},{"s":3,"i":132.5,"v":0},{"s":3,"i":147.7,"v":0},{"s":4,"i":180.1,"v":0},{"s":4,"i":190.8,"v":0},{"s":5,"i":262.8,"v":0},{"s":5,"i":265.6,"v":0},{"s":6,"i":283.2,"v":0},{"s":6,"i":338.7,"v":0}],
"lat":[{"s":1,"i":56.7,"v":0},{"s":1,"i":60.6,"v":0},{"s":2,"i":136.6,"v":0},{"s":2,"i":137.4,"v":1},{"s":2,"i":157.2,"v":1},{"s":2,"i":158.1,"v":0},{"s":3,"i":208.4,"v":0},{"s":3,"i":211.2,"v":0}],
"teal":[{"i":-0.3,"v":0},{"i":16.5,"v":0},{"i":17,"v":-0.6},{"i":17.5,"v":-0.9},{"i":18.6,"v":-0.9},{"i":19.4,"v":0},{"i":29.8,"v":0},{"i":30.6,"v":-0.8},{"i":31.5,"v":-1.05},{"i":32.9,"v":-1.55},{"i":33.8,"v":-1.6},{"i":34.9,"v":-1.75},{"i":36.1,"v":-1.5},{"i":37,"v":-1.3},{"i":38.1,"v":-1.35},{"i":39.3,"v":-1.15},{"i":40.3,"v":-1.15},{"i":41.4,"v":-1.3},{"i":42.1,"v":-1.3},{"i":43.3,"v":-1.05},{"i":43.8,"v":-0.3},{"i":44.2,"v":0},{"i":44.6,"v":-0.5},{"i":45.3,"v":-1},{"i":45.6,"v":-0.5},{"i":46.1,"v":0},{"i":56.7,"v":0},{"i":57.4,"v":-0.4},{"i":58.1,"v":-1},{"i":60,"v":-1},{"i":60.6,"v":-0.3},{"i":61,"v":0},{"i":132.4,"v":0},{"i":132.5,"v":0.25},{"i":133.2,"v":1.15},{"i":134.1,"v":1.05},{"i":135.7,"v":1.27},{"i":136.6,"v":1.05},{"i":137.5,"v":0.36},{"i":138.7,"v":0},{"i":139.4,"v":0.8},{"i":141.1,"v":1.6},{"i":143.1,"v":1.4},{"i":145.4,"v":1.05},{"i":146.8,"v":0.93},{"i":147.7,"v":0},{"i":180.3,"v":0},{"i":181.5,"v":-0.95},{"i":184.8,"v":-1},{"i":186.4,"v":-1.15},{"i":187.5,"v":-1},{"i":189.9,"v":-1.05},{"i":190.8,"v":0},{"i":208.4,"v":0},{"i":209.3,"v":-0.9},{"i":210.2,"v":-0.95},{"i":211.2,"v":0},{"i":262.6,"v":0},{"i":263.5,"v":0.93},{"i":264.5,"v":1.05},{"i":265.7,"v":0},{"i":283.2,"v":0},{"i":283.9,"v":-1.1},{"i":284.6,"v":-1.45},{"i":286,"v":-1.6},{"i":287.4,"v":-1.6},{"i":288,"v":-1.8},{"i":289.7,"v":-1.85},{"i":291,"v":-2.1},{"i":292.2,"v":-1.95},{"i":293.1,"v":-2},{"i":294.3,"v":-1.65},{"i":295.7,"v":-1.5},{"i":297.4,"v":-1.85},{"i":300.3,"v":-1.9},{"i":302.6,"v":-1.3},{"i":304.9,"v":-1.25},{"i":306.6,"v":-1.4},{"i":307.7,"v":-1},{"i":308.6,"v":-1.1},{"i":311,"v":-0.93},{"i":312.8,"v":-1.27},{"i":314.7,"v":-1.35},{"i":316,"v":-1.1},{"i":317.2,"v":-1.27},{"i":318.1,"v":-1.07},{"i":319.8,"v":-1.4},{"i":321.1,"v":-1.35},{"i":322,"v":-1},{"i":322.7,"v":0},{"i":335.2,"v":0},{"i":336.4,"v":-0.9},{"i":337.4,"v":-1},{"i":338.5,"v":-1.16}],
"greenV":[{"i":16.9},{"i":180.1}],"yellowV":[{"i":132.9}],
"buys":[{"i":17.2,"v":1393},{"i":156.8,"v":1586},{"i":183.2,"v":1733}],"sells":[{"i":133.2,"v":1803}],
"stopG":[{"i":137.2,"v":1577}],"stopR":[{"i":157.9,"v":1811}],"stopL":[{"i":-0.6,"v":1474}],
"stopText":[{"i":137.2,"v":1577,"t":"STOP"},{"i":157.9,"v":1811,"t":"STOP"}],
"signals":[{"i":17.6,"v":1298,"t":"COMPRAR","k":"buy"},{"i":157.1,"v":1494,"t":"COMPRAR","k":"buy"},{"i":183.8,"v":1638,"t":"COMPRAR","k":"buy"},{"i":133.4,"v":1893,"t":"VENDER","k":"sell"},{"i":137.4,"v":1464,"t":"STOP","k":"buy"},{"i":158,"v":1879,"t":"STOP","k":"sell"},{"i":1,"v":1545,"t":"OP","k":"sell"}],
"hatch":[{"i":18.5},{"i":21},{"i":23.5},{"i":26},{"i":28.5},{"i":31},{"i":33.5},{"i":36},{"i":38.5},{"i":41},{"i":43.5},{"i":46},{"i":48.5},{"i":51},{"i":53.5},{"i":56},{"i":58.5},{"i":61},{"i":63.5},{"i":66},{"i":68.5},{"i":71},{"i":73.5},{"i":76},{"i":78.5},{"i":81},{"i":83.5},{"i":86},{"i":88.5},{"i":91},{"i":93.5},{"i":96},{"i":98.5},{"i":101},{"i":103.5},{"i":106},{"i":108.5},{"i":111},{"i":113.5},{"i":116},{"i":118.5},{"i":121},{"i":123.5},{"i":126},{"i":128.5},{"i":131},{"i":181.5},{"i":184},{"i":186.5},{"i":189},{"i":191.5},{"i":194},{"i":196.5},{"i":199},{"i":201.5},{"i":204},{"i":206.5},{"i":209},{"i":211.5},{"i":214},{"i":216.5},{"i":219},{"i":221.5},{"i":224},{"i":226.5},{"i":229},{"i":231.5},{"i":234},{"i":236.5},{"i":239},{"i":241.5},{"i":244},{"i":246.5},{"i":249},{"i":251.5},{"i":254},{"i":256.5},{"i":259},{"i":261.5},{"i":264},{"i":266.5},{"i":269},{"i":271.5},{"i":274},{"i":276.5},{"i":279},{"i":281.5},{"i":284},{"i":286.5},{"i":289},{"i":291.5},{"i":294},{"i":296.5},{"i":299},{"i":301.5},{"i":304},{"i":306.5},{"i":309},{"i":311.5},{"i":314},{"i":316.5},{"i":319},{"i":321.5},{"i":324},{"i":326.5},{"i":329},{"i":331.5},{"i":334},{"i":336.5}],
"yline":[{"i":-0.3,"j":16.9},{"i":132.9,"j":180.1}],
"hline":[{"i":-0.4,"j":350.2}],
"blue":[{"i":8},{"i":74.4},{"i":155.8},{"i":259.4}],
"weeks":[{"i":-0.5,"t":"20"},{"i":4.4,"t":"27"},{"i":9.4,"t":"3"},{"i":14.5,"t":"10"},{"i":19.7,"t":"17"},{"i":24.8,"t":"24"},{"i":29.8,"t":"31"},{"i":34.7,"t":"8"},{"i":39.2,"t":""},{"i":44.2,"t":"21"},{"i":49.4,"t":"28"},{"i":54.2,"t":"5"},{"i":59.5,"t":"12"},{"i":64.5,"t":"19"},{"i":69.9,"t":"27"},{"i":75,"t":"3"},{"i":80.1,"t":"10"},{"i":85.4,"t":"17"},{"i":90.3,"t":"24"},{"i":94.4,"t":""},{"i":99.3,"t":"8"},{"i":104.6,"t":"15"},{"i":109.7,"t":"22"},{"i":117.9,"t":"5"},{"i":123.2,"t":"12"},{"i":128.5,"t":"20"},{"i":132.9,"t":""},{"i":137.5,"t":"2"},{"i":142.6,"t":"9"},{"i":147.7,"t":"17"},{"i":151.9,"t":"23"},{"i":157,"t":"2"},{"i":162.1,"t":"9"},{"i":167.4,"t":"16"},{"i":172.5,"t":"23"},{"i":177.5,"t":"29"},{"i":186.8,"t":"12"},{"i":191.9,"t":"19"},{"i":197,"t":"26"},{"i":202.2,"t":"3"},{"i":207.3,"t":"10"},{"i":212.4,"t":"17"},{"i":217.5,"t":"24"},{"i":222.5,"t":"1"},{"i":226.4,"t":"7"},{"i":232,"t":"14"},{"i":237.1,"t":"21"},{"i":242.2,"t":"28"},{"i":247.3,"t":"6"},{"i":251.2,"t":"12"},{"i":256.3,"t":"19"},{"i":261.4,"t":"26"},{"i":266.7,"t":"2"},{"i":271.8,"t":"9"},{"i":277,"t":"16"},{"i":282.1,"t":"23"},{"i":287.4,"t":"30"},{"i":292.4,"t":"7"},{"i":296.6,"t":"13"},{"i":301.4,"t":"20"},{"i":306.8,"t":"27"},{"i":311.9,"t":"4"},{"i":317.2,"t":"11"},{"i":322.3,"t":"18"},{"i":327.2,"t":"25"},{"i":332.4,"t":"2"},{"i":337.6,"t":"9"},{"i":339.5,"t":""},{"i":346.9,"t":"22"}],
"months":[{"i":9.4,"t":"August"},{"i":30.7,"t":"September"},{"i":52.3,"t":"October"},{"i":75.3,"t":"November"},{"i":94.4,"t":"December"},{"i":117,"t":"2010"},{"i":137.5,"t":"February"},{"i":157,"t":"March"},{"i":180.7,"t":"April"},{"i":202.1,"t":"May"},{"i":222.5,"t":"June"},{"i":245,"t":"July"},{"i":266.7,"t":"August"},{"i":289.2,"t":"September"},{"i":311,"t":"October"},{"i":332.3,"t":"November"}],
"smiley":[{"i":355,"t":"☺"}]
},
"vconcat":[
{"width":1336,"height":89,"view":{"fill":"#8B8900","stroke":null},
"encoding":{"x":{"field":"i","type":"quantitative","axis":null,"scale":{"domain":[-10.64,360.47],"nice":false,"zero":false}}},
"resolve":{"axis":{"y":"independent"},"scale":{"y":"shared"}},
"layer":[
{"data":{"name":"dark"},"mark":{"type":"area","interpolate":"step-after","color":"#002808"},"encoding":{"y":{"field":"g","type":"quantitative","scale":{"domain":[-1.44,5.58],"nice":false,"zero":false},"axis":{"orient":"left","offset":-36.5,"values":[-1,0,1,2,3,4,5],"labelExpr":"datum.value<0?'':datum.label","domainColor":"#ffffff","tickColor":"#ffffff","labelColor":"#e8e8e8","tickSize":5,"labelPadding":4,"labelFontSize":9.5,"title":null,"labelOverlap":false,"labelBound":false,"labelFlush":false}},"y2":{"field":"b"}}},
{"data":{"name":"gaps"},"mark":{"type":"rule","color":"#8B8900","strokeWidth":1},"encoding":{"y":{"datum":1.25,"type":"quantitative","scale":{"domain":[-1.44,5.58],"nice":false,"zero":false},"axis":{"orient":"right","offset":-37,"values":[-1,0,1,2,3,4,5],"labelExpr":"datum.value<0?'':datum.label","domainColor":"#00e000","tickColor":"#00e000","labelColor":"#00c800","tickSize":5,"labelAlign":"right","labelPadding":29,"labelFontSize":9.5,"title":null,"labelOverlap":false,"labelBound":false,"labelFlush":false}},"y2":{"datum":-0.1}}},
{"data":{"name":"dash"},"mark":{"type":"line","color":"#c03a10","strokeWidth":1,"strokeDash":[3,2]},"encoding":{"y":{"field":"v","type":"quantitative","scale":{"domain":[-1.44,5.58],"nice":false,"zero":false},"axis":{"orient":"left","offset":-36.5,"values":[-1.25,-0.75,-0.5,-0.25,0.25,0.5,0.75,1.25,1.5,1.75,2.25,2.5,2.75,3.25,3.5,3.75,4.25,4.5,4.75,5.25,5.5],"labels":false,"domain":false,"tickColor":"#ffffff","tickSize":2.5,"title":null}}}},
{"data":{"name":"bobi"},"mark":{"type":"line","color":"#ffffff","strokeWidth":1.2},"encoding":{"y":{"field":"v","type":"quantitative","scale":{"domain":[-1.44,5.58],"nice":false,"zero":false},"axis":{"orient":"right","offset":-37,"values":[-1.25,-0.75,-0.5,-0.25,0.25,0.5,0.75,1.25,1.5,1.75,2.25,2.5,2.75,3.25,3.5,3.75,4.25,4.5,4.75,5.25,5.5],"labels":false,"domain":false,"tickColor":"#00e000","tickSize":2.5,"title":null}}}},
{"data":{"name":"greenV"},"mark":{"type":"rule","color":"#00f000","strokeWidth":1.2},"encoding":{}},
{"data":{"name":"yellowV"},"mark":{"type":"rule","color":"#ffc800","strokeWidth":1.2},"encoding":{}},
{"data":{"name":"bobiTitle"},"mark":{"type":"text","color":"#10c000","fontSize":9},"encoding":{"y":{"field":"v","type":"quantitative","axis":null,"scale":{"domain":[-1.44,5.58],"nice":false,"zero":false}},"text":{"field":"t"}}}
]},
{"width":1336,"height":65,"view":{"fill":"#2B2B2B","stroke":null},
"encoding":{"x":{"field":"i","type":"quantitative","axis":null,"scale":{"domain":[-10.64,360.47],"nice":false,"zero":false}}},
"resolve":{"axis":{"y":"independent"},"scale":{"y":"shared"}},
"layer":[
{"data":{"name":"red"},"mark":{"type":"line","color":"#ff0000","strokeWidth":1},"encoding":{"y":{"field":"v","type":"quantitative","scale":{"domain":[-2.42,1.91],"nice":false,"zero":false},"axis":{"orient":"left","offset":-36.5,"values":[-2,-1,0,1],"format":"d","domainColor":"#ffffff","tickColor":"#ffffff","labelColor":"#e8e8e8","tickSize":5,"labelPadding":4,"labelFontSize":9.5,"title":null,"labelOverlap":false,"labelBound":false,"labelFlush":false}}}},
{"data":{"name":"thick"},"mark":{"type":"line","color":"#ff2000","strokeWidth":2},"encoding":{"detail":{"field":"s"},"y":{"field":"v","type":"quantitative","scale":{"domain":[-2.42,1.91],"nice":false,"zero":false},"axis":{"orient":"right","offset":-37,"values":[-2,-1,0,1],"format":"d","domainColor":"#00e000","tickColor":"#00e000","labelColor":"#00c800","tickSize":5,"labelAlign":"right","labelPadding":29,"labelFontSize":9.5,"title":null,"labelOverlap":false,"labelBound":false,"labelFlush":false}}}},
{"data":{"name":"lat"},"mark":{"type":"line","color":"#ff6020","strokeWidth":2},"encoding":{"detail":{"field":"s"},"y":{"field":"v","type":"quantitative","scale":{"domain":[-2.42,1.91],"nice":false,"zero":false},"axis":{"orient":"left","offset":-36.5,"values":[-2.25,-1.5,-0.5,0.5,1.5],"labels":false,"domain":false,"tickColor":"#ffffff","tickSize":2.5,"title":null}}}},
{"data":{"name":"teal"},"mark":{"type":"line","color":"#40E0D0","strokeWidth":1},"encoding":{"y":{"field":"v","type":"quantitative","scale":{"domain":[-2.42,1.91],"nice":false,"zero":false},"axis":{"orient":"right","offset":-37,"values":[-2.25,-1.5,-0.5,0.5,1.5],"labels":false,"domain":false,"tickColor":"#00e000","tickSize":2.5,"title":null}}}},
{"data":{"name":"greenV"},"mark":{"type":"rule","color":"#00f000","strokeWidth":1.2},"encoding":{}},
{"data":{"name":"yellowV"},"mark":{"type":"rule","color":"#ffc800","strokeWidth":1.2},"encoding":{}},
{"data":{"name":"latTitle"},"mark":{"type":"text","color":"#10d000","fontSize":8.9},"encoding":{"y":{"field":"v","type":"quantitative","axis":null,"scale":{"domain":[-2.42,1.91],"nice":false,"zero":false}},"text":{"field":"t"}}}
]},
{"width":1336,"height":401,"view":{"fill":"#000000","stroke":null},
"encoding":{"x":{"field":"i","type":"quantitative","axis":null,"scale":{"domain":[-10.64,360.47],"nice":false,"zero":false,"padding":0}}},
"resolve":{"axis":{"y":"independent"},"scale":{"y":"shared"}},
"layer":[
{"data":{"name":"candles"},"mark":{"type":"rule","strokeWidth":1},"encoding":{"y":{"field":"l","type":"quantitative","scale":{"domain":[1069,3099.5],"nice":false,"zero":false},"axis":{"orient":"left","offset":-36.5,"values":[1100,1150,1200,1250,1300,1350,1400,1450,1500,1550,1600,1650,1700,1750,1800,1850,1900,1950,2000,2050,2100,2150,2200,2250,2300,2350,2400,2450,2500,2550,2600,2650,2700,2750,2800,2850,2900,2950,3000,3050],"format":"d","domainColor":"#ffffff","tickColor":"#ffffff","labelColor":"#e8e8e8","tickSize":5,"labelPadding":3,"labelFontSize":8.6,"title":null,"labelOverlap":false,"labelBound":false,"labelFlush":false}},"y2":{"field":"h"},"stroke":{"condition":{"test":"datum.c>=datum.o","value":"#ffffff"},"value":"#808080"}}},
{"data":{"name":"candles"},"mark":{"type":"bar","size":2.6,"strokeWidth":1},"encoding":{"y":{"field":"o","type":"quantitative","scale":{"domain":[1069,3099.5],"nice":false,"zero":false},"axis":{"orient":"right","offset":-37,"values":[1100,1150,1200,1250,1300,1350,1400,1450,1500,1550,1600,1650,1700,1750,1800,1850,1900,1950,2000,2050,2100,2150,2200,2250,2300,2350,2400,2450,2500,2550,2600,2650,2700,2750,2800,2850,2900,2950,3000,3050],"format":"d","domainColor":"#ffffff","tickColor":"#ffffff","labelColor":"#e8e8e8","tickSize":5,"labelPadding":9,"labelFontSize":8.6,"title":null,"labelOverlap":false,"labelBound":false,"labelFlush":false}},"y2":{"field":"c"},"fill":{"condition":{"test":"datum.c>=datum.o","value":"#000000"},"value":"#808080"},"stroke":{"condition":{"test":"datum.c>=datum.o","value":"#ffffff"},"value":"#808080"}}},
{"data":{"name":"orange"},"mark":{"type":"square","size":4,"color":"#ff5a14","opacity":1},"encoding":{"y":{"field":"v","type":"quantitative","scale":{"domain":[1069,3099.5],"nice":false,"zero":false},"axis":{"orient":"left","offset":-36.5,"values":[1075,1125,1175,1225,1275,1325,1375,1425,1475,1525,1575,1625,1675,1725,1775,1825,1875,1925,1975,2025,2075,2125,2175,2225,2275,2325,2375,2425,2475,2525,2575,2625,2675,2725,2775,2825,2875,2925,2975,3025,3075],"labels":false,"domain":false,"tickColor":"#ffffff","tickSize":2.5,"title":null}}}},
{"data":{"name":"yellow"},"mark":{"type":"square","size":1.5,"color":"#ffff00","opacity":1},"encoding":{"y":{"field":"v","type":"quantitative","scale":{"domain":[1069,3099.5],"nice":false,"zero":false},"axis":{"orient":"right","offset":-37,"values":[1075,1125,1175,1225,1275,1325,1375,1425,1475,1525,1575,1625,1675,1725,1775,1825,1875,1925,1975,2025,2075,2125,2175,2225,2275,2325,2375,2425,2475,2525,2575,2625,2675,2725,2775,2825,2875,2925,2975,3025,3075],"labels":false,"domain":false,"tickColor":"#ffffff","tickSize":2.5,"title":null}}}},
{"data":{"name":"greenV"},"mark":{"type":"rule","color":"#00f000","strokeWidth":1.2},"encoding":{}},
{"data":{"name":"yellowV"},"mark":{"type":"rule","color":"#ffc800","strokeWidth":1.2},"encoding":{}},
{"data":{"name":"buys"},"mark":{"type":"point","shape":"M0,-1L0.8,-0.1L0.32,-0.1L0.32,1L-0.32,1L-0.32,-0.1L-0.8,-0.1Z","size":272,"filled":true,"color":"#00ff00","opacity":1},"encoding":{"y":{"field":"v","type":"quantitative","axis":null,"scale":{"domain":[1069,3099.5],"nice":false,"zero":false}}}},
{"data":{"name":"sells"},"mark":{"type":"point","shape":"M0,1L0.8,0.1L0.32,0.1L0.32,-1L-0.32,-1L-0.32,0.1L-0.8,0.1Z","size":300,"filled":true,"color":"#ff1010","opacity":1},"encoding":{"y":{"field":"v","type":"quantitative","axis":null,"scale":{"domain":[1069,3099.5],"nice":false,"zero":false}}}},
{"data":{"name":"stopG"},"mark":{"type":"point","shape":"M-0.4,-1L0.4,-1L1,-0.4L1,0.4L0.4,1L0.12,1L0.12,1.6L-0.12,1.6L-0.12,1L-0.4,1L-1,0.4L-1,-0.4Z","size":225,"filled":true,"color":"#00ff00","opacity":1},"encoding":{"y":{"field":"v","type":"quantitative","axis":null,"scale":{"domain":[1069,3099.5],"nice":false,"zero":false}}}},
{"data":{"name":"stopR"},"mark":{"type":"point","shape":"M-0.4,-1L0.4,-1L1,-0.4L1,0.4L0.4,1L0.12,1L0.12,1.6L-0.12,1.6L-0.12,1L-0.4,1L-1,0.4L-1,-0.4Z","size":225,"filled":true,"color":"#f01010","opacity":1},"encoding":{"y":{"field":"v","type":"quantitative","axis":null,"scale":{"domain":[1069,3099.5],"nice":false,"zero":false}}}},
{"data":{"name":"stopL"},"mark":{"type":"point","shape":"M0,-1L0.4,-1L1,-0.4L1,0.4L0.4,1L0,1Z","size":225,"filled":true,"color":"#f01010","opacity":1},"encoding":{"y":{"field":"v","type":"quantitative","axis":null,"scale":{"domain":[1069,3099.5],"nice":false,"zero":false}}}},
{"data":{"name":"stopText"},"mark":{"type":"text","fontSize":6,"fontWeight":"bold","color":"#101010"},"encoding":{"y":{"field":"v","type":"quantitative","axis":null,"scale":{"domain":[1069,3099.5],"nice":false,"zero":false}},"text":{"field":"t"}}},
{"data":{"name":"signals"},"mark":{"type":"text","fontSize":9},"encoding":{"y":{"field":"v","type":"quantitative","axis":null,"scale":{"domain":[1069,3099.5],"nice":false,"zero":false}},"text":{"field":"t"},"color":{"field":"k","type":"nominal","legend":null,"scale":{"domain":["buy","sell"],"range":["#00e800","#f01010"]}}}},
{"data":{"name":"mainTitle"},"mark":{"type":"text","color":"#ffffff","fontSize":8.8},"encoding":{"y":{"field":"v","type":"quantitative","axis":null,"scale":{"domain":[1069,3099.5],"nice":false,"zero":false}},"text":{"field":"t"}}}
]},
{"width":1336,"height":34,"view":{"fill":"#ffffff","stroke":null},
"encoding":{"x":{"field":"i","type":"quantitative","axis":null,"scale":{"domain":[-10.64,360.47],"nice":false,"zero":false}}},
"layer":[
{"data":{"name":"hatch"},"mark":{"type":"point","shape":"M-1,1L1,-1","size":121,"filled":false,"color":"#22cc22","strokeWidth":1,"opacity":1},"encoding":{"y":{"datum":6,"type":"quantitative","axis":null,"scale":{"domain":[34,0],"nice":false,"zero":false}}}},
{"data":{"name":"yline"},"mark":{"type":"rule","color":"#ffc000","strokeWidth":1},"encoding":{"x2":{"field":"j"},"y":{"datum":5,"type":"quantitative","axis":null,"scale":{"domain":[34,0],"nice":false,"zero":false}}}},
{"data":{"name":"blue"},"mark":{"type":"point","shape":"circle","size":30,"filled":true,"fill":"#d0d0ff","stroke":"#2020ff","strokeWidth":1.5,"opacity":1},"encoding":{"y":{"datum":5,"type":"quantitative","axis":null,"scale":{"domain":[34,0],"nice":false,"zero":false}}}},
{"data":{"name":"weeks"},"mark":{"type":"rule","color":"#000000","strokeWidth":1},"encoding":{"y":{"datum":12,"type":"quantitative","axis":null,"scale":{"domain":[34,0],"nice":false,"zero":false}},"y2":{"datum":23.7}}},
{"data":{"name":"months"},"mark":{"type":"rule","color":"#000000","strokeWidth":1},"encoding":{"y":{"datum":23.7,"type":"quantitative","axis":null,"scale":{"domain":[34,0],"nice":false,"zero":false}},"y2":{"datum":34}}},
{"data":{"name":"hline"},"mark":{"type":"rule","color":"#000000","strokeWidth":1},"encoding":{"x2":{"field":"j"},"y":{"datum":23.7,"type":"quantitative","axis":null,"scale":{"domain":[34,0],"nice":false,"zero":false}}}},
{"data":{"name":"weeks"},"mark":{"type":"text","align":"left","dx":1.5,"fontSize":8.6,"color":"#000000"},"encoding":{"y":{"datum":18,"type":"quantitative","axis":null,"scale":{"domain":[34,0],"nice":false,"zero":false}},"text":{"field":"t"}}},
{"data":{"name":"months"},"mark":{"type":"text","align":"left","dx":1.5,"fontSize":8.8,"color":"#000000"},"encoding":{"y":{"datum":29,"type":"quantitative","axis":null,"scale":{"domain":[34,0],"nice":false,"zero":false}},"text":{"field":"t"}}},
{"data":{"name":"smiley"},"mark":{"type":"text","font":"DejaVu Sans","fontSize":18,"color":"#20e020"},"encoding":{"y":{"datum":24,"type":"quantitative","axis":null,"scale":{"domain":[34,0],"nice":false,"zero":false}},"text":{"field":"t"}}}
]}
]}
